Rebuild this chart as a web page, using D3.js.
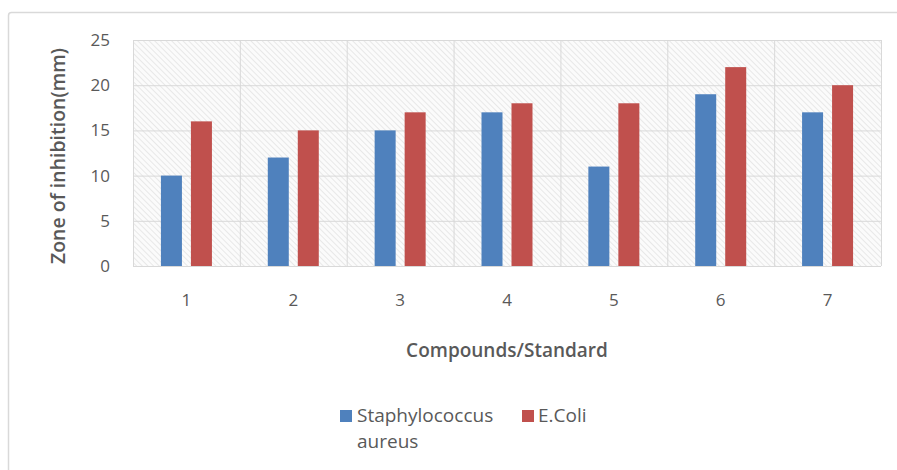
<!DOCTYPE html>
<html>
<head>
<meta charset="utf-8">
<script src="https://cdn.jsdelivr.net/npm/d3@7"></script>
<style>
  body { margin: 0; background: #fff; }
  svg { display: block; font-family: "Open Sans", "DejaVu Sans", sans-serif; }
</style>
</head>
<body>
<svg id="chart"></svg>
<script>
const width = 897;
const height = 470;

// donnees
const categories = ["1", "2", "3", "4", "5", "6", "7"];
const staph = [10, 12, 15, 17, 11, 19, 17];
const ecoli = [16, 15, 17, 18, 18, 22, 20];
const seriesNames = ["Staphylococcus aureus", "E.Coli"];
const seriesColors = ["#4F81BD", "#C0504D"];
const yTicks = [0, 5, 10, 15, 20, 25];

const svg = d3.select("#chart")
  .attr("width", width)
  .attr("height", height);

// cadre exterieur
svg.append("rect")
  .attr("x", 8.5)
  .attr("y", 12.5)
  .attr("width", 900)
  .attr("height", 470)
  .attr("rx", 3)
  .attr("fill", "#fff")
  .attr("stroke", "#d9d9d9")
  .attr("stroke-width", 1.5);

const plot = { left: 133, right: 881, top: 40, bottom: 266 };

const x = d3.scaleBand()
  .domain(categories)
  .range([plot.left, plot.right]);

const y = d3.scaleLinear()
  .domain([0, 25])
  .range([plot.bottom, plot.top]);

// hachures du fond
const defs = svg.append("defs");
const pat = defs.append("pattern")
  .attr("id", "hatch")
  .attr("patternUnits", "userSpaceOnUse")
  .attr("width", 4)
  .attr("height", 4)
  .attr("patternTransform", "rotate(-45)");
pat.append("rect").attr("width", 4).attr("height", 4).attr("fill", "#fbfbfb");
pat.append("line")
  .attr("x1", 0).attr("y1", 0).attr("x2", 0).attr("y2", 4)
  .attr("stroke", "#dcdcdc")
  .attr("stroke-width", 1.2);

svg.append("rect")
  .attr("x", plot.left)
  .attr("y", plot.top)
  .attr("width", plot.right - plot.left)
  .attr("height", plot.bottom - plot.top)
  .attr("fill", "url(#hatch)");

// grille horizontale
svg.append("g")
  .selectAll("line")
  .data(yTicks)
  .join("line")
  .attr("x1", plot.left)
  .attr("x2", plot.right)
  .attr("y1", d => y(d) + 0.5)
  .attr("y2", d => y(d) + 0.5)
  .attr("stroke", "#d9d9d9")
  .attr("stroke-width", 1);

// grille verticale (bords des categories)
const bounds = categories.map(c => x(c)).concat([plot.right]);
svg.append("g")
  .selectAll("line")
  .data(bounds)
  .join("line")
  .attr("x1", d => d + 0.5)
  .attr("x2", d => d + 0.5)
  .attr("y1", plot.top)
  .attr("y2", plot.bottom)
  .attr("stroke", "#d9d9d9")
  .attr("stroke-width", 1);

// barres
const barW = 21;
const gap = 9;
const series = [staph, ecoli];
series.forEach((vals, s) => {
  svg.append("g")
    .selectAll("rect")
    .data(vals)
    .join("rect")
    .attr("x", (d, i) => {
      const c = x(categories[i]) + x.bandwidth() / 2;
      return s === 0 ? c - gap / 2 - barW : c + gap / 2;
    })
    .attr("y", d => y(d))
    .attr("width", barW)
    .attr("height", d => y(0) - y(d))
    .attr("fill", seriesColors[s]);
});

// axe y
const yAxis = svg.append("g")
  .attr("transform", `translate(${plot.left},0)`)
  .call(d3.axisLeft(y).tickValues(yTicks).tickSize(0).tickPadding(23));
yAxis.select(".domain").remove();
yAxis.selectAll("text")
  .attr("font-size", 17)
  .attr("font-family", "Open Sans, sans-serif")
  .attr("fill", "#595959");

// axe x
const xAxis = svg.append("g")
  .attr("transform", `translate(0,${plot.bottom})`)
  .call(d3.axisBottom(x).tickSize(0).tickPadding(28));
xAxis.select(".domain").remove();
xAxis.selectAll("text")
  .attr("font-size", 17)
  .attr("font-family", "Open Sans, sans-serif")
  .attr("fill", "#595959");

// titres des axes
svg.append("text")
  .text("Compounds/Standard")
  .attr("x", 507)
  .attr("y", 357)
  .attr("text-anchor", "middle")
  .attr("font-size", 19)
  .attr("font-weight", 600)
  .attr("fill", "#595959");

svg.append("text")
  .text("Zone of inhibition(mm)")
  .attr("transform", "translate(65,156) rotate(-90)")
  .attr("text-anchor", "middle")
  .attr("font-size", 19.5)
  .attr("font-weight", 600)
  .attr("fill", "#595959");

// legende
const legend = svg.append("g");
const legX = [340, 522];
legend.selectAll("rect")
  .data(seriesNames)
  .join("rect")
  .attr("x", (d, i) => legX[i])
  .attr("y", 410)
  .attr("width", 12)
  .attr("height", 12)
  .attr("fill", (d, i) => seriesColors[i]);

legend.append("text")
  .attr("y", 422)
  .attr("font-size", 19)
  .attr("fill", "#595959")
  .selectAll("tspan")
  .data(["Staphylococcus", "aureus"])
  .join("tspan")
  .attr("x", 357)
  .attr("dy", (d, i) => i === 0 ? 0 : 26)
  .text(d => d);

legend.append("text")
  .text(seriesNames[1])
  .attr("x", 538)
  .attr("y", 422)
  .attr("font-size", 19)
  .attr("fill", "#595959");
</script>
</body>
</html>
